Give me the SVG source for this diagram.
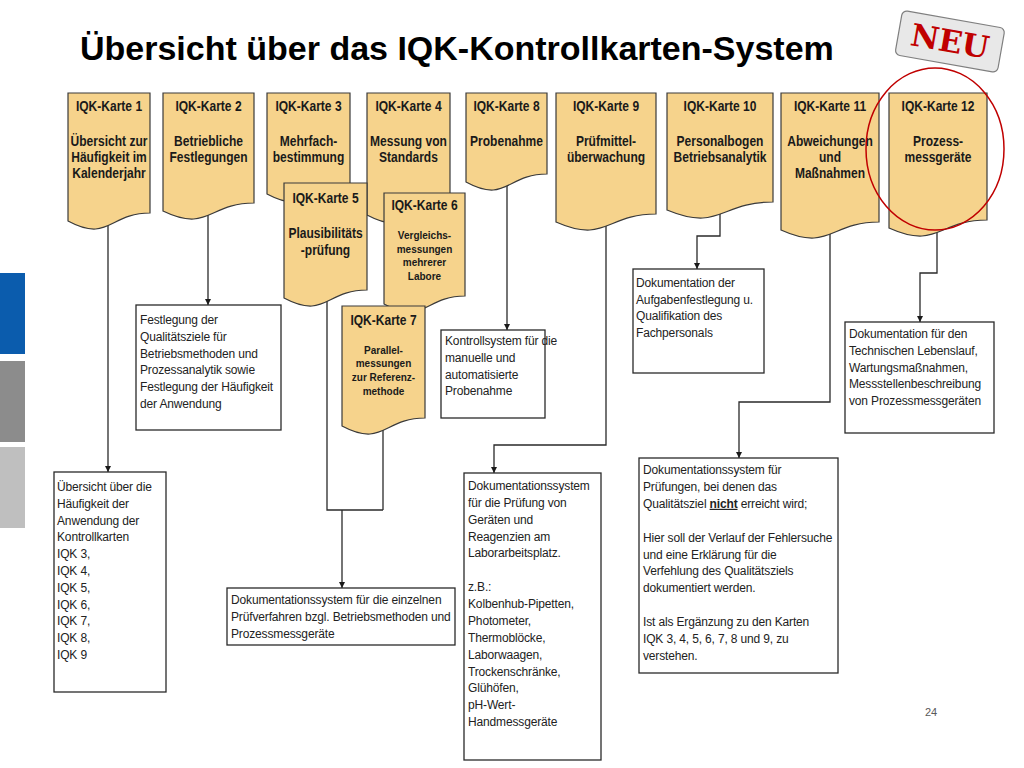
<svg xmlns="http://www.w3.org/2000/svg" width="1024" height="768" viewBox="0 0 1024 768">
<style>
.card{fill:#f6d38c;stroke:#3a3a3a;stroke-width:1.2}
.ct{font-family:"Liberation Sans",Arial,sans-serif;font-weight:bold;font-size:14px;fill:#1a1a1a;text-anchor:middle}
.cs{font-family:"Liberation Sans",Arial,sans-serif;font-weight:bold;font-size:10px;fill:#1a1a1a;text-anchor:middle}
.box{fill:#fff;stroke:#2a2a2a;stroke-width:1.3}
.bt{font-family:"Liberation Sans",Arial,sans-serif;font-size:12px;fill:#222;letter-spacing:-0.15px}
.con{fill:none;stroke:#2a2a2a;stroke-width:1.3}
</style>
<defs>
<marker id="ah" viewBox="0 0 8 8" refX="8" refY="4" markerWidth="6" markerHeight="6" markerUnits="userSpaceOnUse" orient="auto">
<path d="M0,0 L8,4 L0,8 Z" fill="#1a1a1a"/>
</marker>
</defs>
<rect width="1024" height="768" fill="#fff"/>
<rect x="0" y="273" width="25" height="81" fill="#0b5cad"/>
<rect x="0" y="361" width="25" height="81" fill="#8c8c8c"/>
<rect x="0" y="447" width="25" height="81" fill="#bfbfbf"/>
<text x="80" y="60" font-family="Liberation Sans, Arial, sans-serif" font-weight="bold" font-size="34" fill="#000">Übersicht über das IQK-Kontrollkarten-System</text>
<g id="neu" transform="translate(950,41) rotate(10)">
<rect x="-52" y="-22" width="104" height="45" rx="5" fill="#e8e8e8" stroke="#7f7f7f" stroke-width="1.2"/>
<text x="0" y="11" text-anchor="middle" font-family="DejaVu Serif, Liberation Serif, serif" font-weight="bold" font-size="31" fill="#c00000">NEU</text>
</g>
<g id="connectors">
<path class="con" d="M108,215 V472" marker-end="url(#ah)"/>
<path class="con" d="M208,205 V305" marker-end="url(#ah)"/>
<path class="con" d="M327,292 V510 H383"/>
<path class="con" d="M383,420 V510"/>
<path class="con" d="M342,510 V588" marker-end="url(#ah)"/>
<path class="con" d="M507,176 V330" marker-end="url(#ah)"/>
<path class="con" d="M606,216 V445 H494 V473" marker-end="url(#ah)"/>
<path class="con" d="M720,204 V236 H697 V269" marker-end="url(#ah)"/>
<path class="con" d="M830,224 V402 H739 V458" marker-end="url(#ah)"/>
<path class="con" d="M937,222 V273 H920 V322" marker-end="url(#ah)"/>
</g>
<g id="card1"><path class="card" d="M68,93 H150 V213 C109,213 109,243 68,221 Z"/>
<g transform="translate(109,0) scale(0.86,1)"><text class="ct" x="0" y="111">IQK-Karte 1</text><text class="ct" x="0" y="146">Übersicht zur</text><text class="ct" x="0" y="162">Häufigkeit im</text><text class="ct" x="0" y="178">Kalenderjahr</text></g></g>
<g id="card2"><path class="card" d="M163,93 H254 V203 C208.5,203 208.5,233 163,211 Z"/>
<g transform="translate(208.5,0) scale(0.86,1)"><text class="ct" x="0" y="111">IQK-Karte 2</text><text class="ct" x="0" y="146">Betriebliche</text><text class="ct" x="0" y="162">Festlegungen</text></g></g>
<g id="card3"><path class="card" d="M267,93 H350 V186 C308.5,186 308.5,216 267,194 Z"/>
<g transform="translate(308.5,0) scale(0.86,1)"><text class="ct" x="0" y="111">IQK-Karte 3</text><text class="ct" x="0" y="146">Mehrfach-</text><text class="ct" x="0" y="162">bestimmung</text></g></g>
<g id="card4"><path class="card" d="M367,93 H450 V207 C408.5,207 408.5,237 367,215 Z"/>
<g transform="translate(408.5,0) scale(0.86,1)"><text class="ct" x="0" y="111">IQK-Karte 4</text><text class="ct" x="0" y="146">Messung von</text><text class="ct" x="0" y="162">Standards</text></g></g>
<g id="card5"><path class="card" d="M284,183 H367 V290 C325.5,290 325.5,320 284,298 Z"/>
<g transform="translate(325.5,0) scale(0.86,1)"><text class="ct" x="0" y="203">IQK-Karte 5</text><text class="ct" x="0" y="238">Plausibilitäts</text><text class="ct" x="0" y="255">-prüfung</text></g></g>
<g id="card6"><path class="card" d="M384,193 H465 V296 C424.5,296 424.5,326 384,304 Z"/>
<g transform="translate(424.5,0) scale(0.86,1)"><text class="ct" x="0" y="210">IQK-Karte 6</text></g>
<text class="cs" x="424.5" y="239">Vergleichs-</text><text class="cs" x="424.5" y="253">messungen</text><text class="cs" x="424.5" y="266">mehrerer</text><text class="cs" x="424.5" y="280">Labore</text></g>
<g id="card7"><path class="card" d="M342,306 H425 V418 C383.5,418 383.5,448 342,426 Z"/>
<g transform="translate(383.5,0) scale(0.86,1)"><text class="ct" x="0" y="325">IQK-Karte 7</text></g>
<text class="cs" x="383.5" y="354">Parallel-</text><text class="cs" x="383.5" y="367">messungen</text><text class="cs" x="383.5" y="381">zur Referenz-</text><text class="cs" x="383.5" y="395">methode</text></g>
<g id="card8"><path class="card" d="M466,93 H547 V174 C506.5,174 506.5,204 466,182 Z"/>
<g transform="translate(506.5,0) scale(0.86,1)"><text class="ct" x="0" y="111">IQK-Karte 8</text><text class="ct" x="0" y="146">Probenahme</text></g></g>
<g id="card9"><path class="card" d="M556,93 H656 V214 C606,214 606,244 556,222 Z"/>
<g transform="translate(606,0) scale(0.86,1)"><text class="ct" x="0" y="111">IQK-Karte 9</text><text class="ct" x="0" y="146">Prüfmittel-</text><text class="ct" x="0" y="162">überwachung</text></g></g>
<g id="card10"><path class="card" d="M667,93 H773 V202 C720,202 720,232 667,210 Z"/>
<g transform="translate(720,0) scale(0.86,1)"><text class="ct" x="0" y="111">IQK-Karte 10</text><text class="ct" x="0" y="146">Personalbogen</text><text class="ct" x="0" y="162">Betriebsanalytik</text></g></g>
<g id="card11"><path class="card" d="M781,93 H879 V222 C830,222 830,252 781,230 Z"/>
<g transform="translate(830,0) scale(0.86,1)"><text class="ct" x="0" y="111">IQK-Karte 11</text><text class="ct" x="0" y="146">Abweichungen</text><text class="ct" x="0" y="162">und</text><text class="ct" x="0" y="178">Maßnahmen</text></g></g>
<g id="card12"><path class="card" d="M889,93 H987 V220 C938,220 938,250 889,228 Z"/>
<g transform="translate(938,0) scale(0.86,1)"><text class="ct" x="0" y="111">IQK-Karte 12</text><text class="ct" x="0" y="146">Prozess-</text><text class="ct" x="0" y="162">messgeräte</text></g></g>
<ellipse cx="935" cy="149" rx="69" ry="81" fill="none" stroke="#c00000" stroke-width="1.5"/>
<g id="boxA"><rect class="box" x="54" y="472" width="112" height="220"/>
<text class="bt"><tspan x="57" y="491">Übersicht über die</tspan><tspan x="57" y="507.8">Häufigkeit der</tspan><tspan x="57" y="524.6">Anwendung der</tspan><tspan x="57" y="541.4">Kontrollkarten</tspan><tspan x="57" y="558.2">IQK 3,</tspan><tspan x="57" y="575">IQK 4,</tspan><tspan x="57" y="591.8">IQK 5,</tspan><tspan x="57" y="608.6">IQK 6,</tspan><tspan x="57" y="625.4">IQK 7,</tspan><tspan x="57" y="642.2">IQK 8,</tspan><tspan x="57" y="659">IQK 9</tspan></text></g>
<g id="boxB"><rect class="box" x="136" y="305" width="145" height="125"/>
<text class="bt"><tspan x="140" y="324">Festlegung der</tspan><tspan x="140" y="340.8">Qualitätsziele für</tspan><tspan x="140" y="357.6">Betriebsmethoden und</tspan><tspan x="140" y="374.4">Prozessanalytik sowie</tspan><tspan x="140" y="391.2">Festlegung der Häufigkeit</tspan><tspan x="140" y="408">der Anwendung</tspan></text></g>
<g id="boxC"><rect class="box" x="227" y="588" width="228" height="57"/>
<text class="bt"><tspan x="231" y="604">Dokumentationssystem für die einzelnen</tspan><tspan x="231" y="621">Prüfverfahren bzgl. Betriebsmethoden und</tspan><tspan x="231" y="638">Prozessmessgeräte</tspan></text></g>
<g id="boxD"><rect class="box" x="441" y="330" width="104" height="88"/>
<text class="bt"><tspan x="445" y="345">Kontrollsystem für die</tspan><tspan x="445" y="361.8">manuelle und</tspan><tspan x="445" y="378.6">automatisierte</tspan><tspan x="445" y="395.4">Probenahme</tspan></text></g>
<g id="boxE"><rect class="box" x="464" y="473" width="137" height="287"/>
<text class="bt"><tspan x="468" y="490">Dokumentationssystem</tspan><tspan x="468" y="506.9">für die Prüfung von</tspan><tspan x="468" y="523.7">Geräten und</tspan><tspan x="468" y="540.6">Reagenzien am</tspan><tspan x="468" y="557.4">Laborarbeitsplatz.</tspan><tspan x="468" y="591.2">z.B.:</tspan><tspan x="468" y="608">Kolbenhub-Pipetten,</tspan><tspan x="468" y="624.9">Photometer,</tspan><tspan x="468" y="641.8">Thermoblöcke,</tspan><tspan x="468" y="658.6">Laborwaagen,</tspan><tspan x="468" y="675.5">Trockenschränke,</tspan><tspan x="468" y="692.3">Glühöfen,</tspan><tspan x="468" y="709.2">pH-Wert-</tspan><tspan x="468" y="726">Handmessgeräte</tspan></text></g>
<g id="boxF"><rect class="box" x="633" y="269" width="131" height="104"/>
<text class="bt"><tspan x="636" y="287">Dokumentation der</tspan><tspan x="636" y="303.7">Aufgabenfestlegung u.</tspan><tspan x="636" y="320.4">Qualifikation des</tspan><tspan x="636" y="337.1">Fachpersonals</tspan></text></g>
<g id="boxG"><rect class="box" x="845" y="322" width="149" height="111"/>
<text class="bt"><tspan x="849" y="338">Dokumentation für den</tspan><tspan x="849" y="354.8">Technischen Lebenslauf,</tspan><tspan x="849" y="371.6">Wartungsmaßnahmen,</tspan><tspan x="849" y="388.4">Messstellenbeschreibung</tspan><tspan x="849" y="405.2">von Prozessmessgeräten</tspan></text></g>
<g id="boxH"><rect class="box" x="639" y="458" width="199" height="215"/>
<text class="bt"><tspan x="643" y="474">Dokumentationssystem für</tspan><tspan x="643" y="490.9">Prüfungen, bei denen das</tspan><tspan x="643" y="507.8">Qualitätsziel <tspan font-weight="bold" text-decoration="underline">nicht</tspan> erreicht wird;</tspan><tspan x="643" y="541.6">Hier soll der Verlauf der Fehlersuche</tspan><tspan x="643" y="558.5">und eine Erklärung für die</tspan><tspan x="643" y="575.4">Verfehlung des Qualitätsziels</tspan><tspan x="643" y="592.3">dokumentiert werden.</tspan><tspan x="643" y="626.1">Ist als Ergänzung zu den Karten</tspan><tspan x="643" y="643">IQK 3, 4, 5, 6, 7, 8 und 9, zu</tspan><tspan x="643" y="659.9">verstehen.</tspan></text></g>
<text x="931" y="716" text-anchor="middle" font-family="Liberation Sans, Arial, sans-serif" font-size="11" fill="#595959">24</text>
</svg>
